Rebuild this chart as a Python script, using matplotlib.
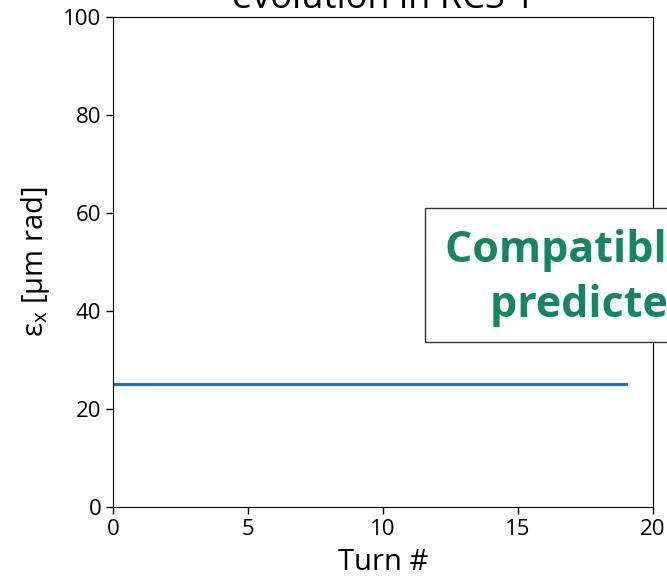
import matplotlib.pyplot as plt
from matplotlib.patches import Rectangle

plt.rcParams['font.family'] = ['Open Sans', 'DejaVu Sans']
plt.rcParams['mathtext.fontset'] = 'custom'
plt.rcParams['mathtext.rm'] = 'Open Sans'

# horizontal emittance per turn
turns = list(range(20))
emit_x = [25.2, 25.2, 25.2, 25.2, 25.2, 25.2, 25.2, 25.2, 25.2, 25.2,
          25.2, 25.2, 25.2, 25.2, 25.2, 25.2, 25.2, 25.2, 25.2, 25.2]

fig = plt.figure(figsize=(6.67, 5.85), dpi=100)
ax = fig.add_axes([113 / 667, 78 / 585, 540 / 667, 490 / 585])

ax.plot(turns, emit_x, color='#1f77b4', lw=2.3)
ax.set_xlim(0, 20)
ax.set_ylim(0, 100)
ax.set_xticks([0, 5, 10, 15, 20])
ax.set_yticks([0, 20, 40, 60, 80, 100])
ax.tick_params(labelsize=16, length=5, width=1)
ax.set_xlabel('Turn #', fontsize=21, labelpad=6)
ax.set_ylabel(r'ε$_\mathrm{x}$ [μm rad]', fontsize=21, labelpad=8)
ax.set_title('Horizontal emittance\nevolution in RCS 1', fontsize=26, pad=4)

# annotation box on the right
fig.patches.append(Rectangle((425 / 667, 1 - 342 / 585), 300 / 667, 134 / 585,
                             transform=fig.transFigure, facecolor='white',
                             edgecolor='#333333', lw=1, zorder=5))
fig.text(445 / 667, 1 - 262 / 585, 'Compatible with', color='#168560',
         fontsize=31, fontweight='bold', ha='left', va='baseline', zorder=6)
fig.text(490 / 667, 1 - 317 / 585, 'predicted value', color='#168560',
         fontsize=31, fontweight='bold', ha='left', va='baseline', zorder=6)

fig.savefig('out.png', dpi=100)
